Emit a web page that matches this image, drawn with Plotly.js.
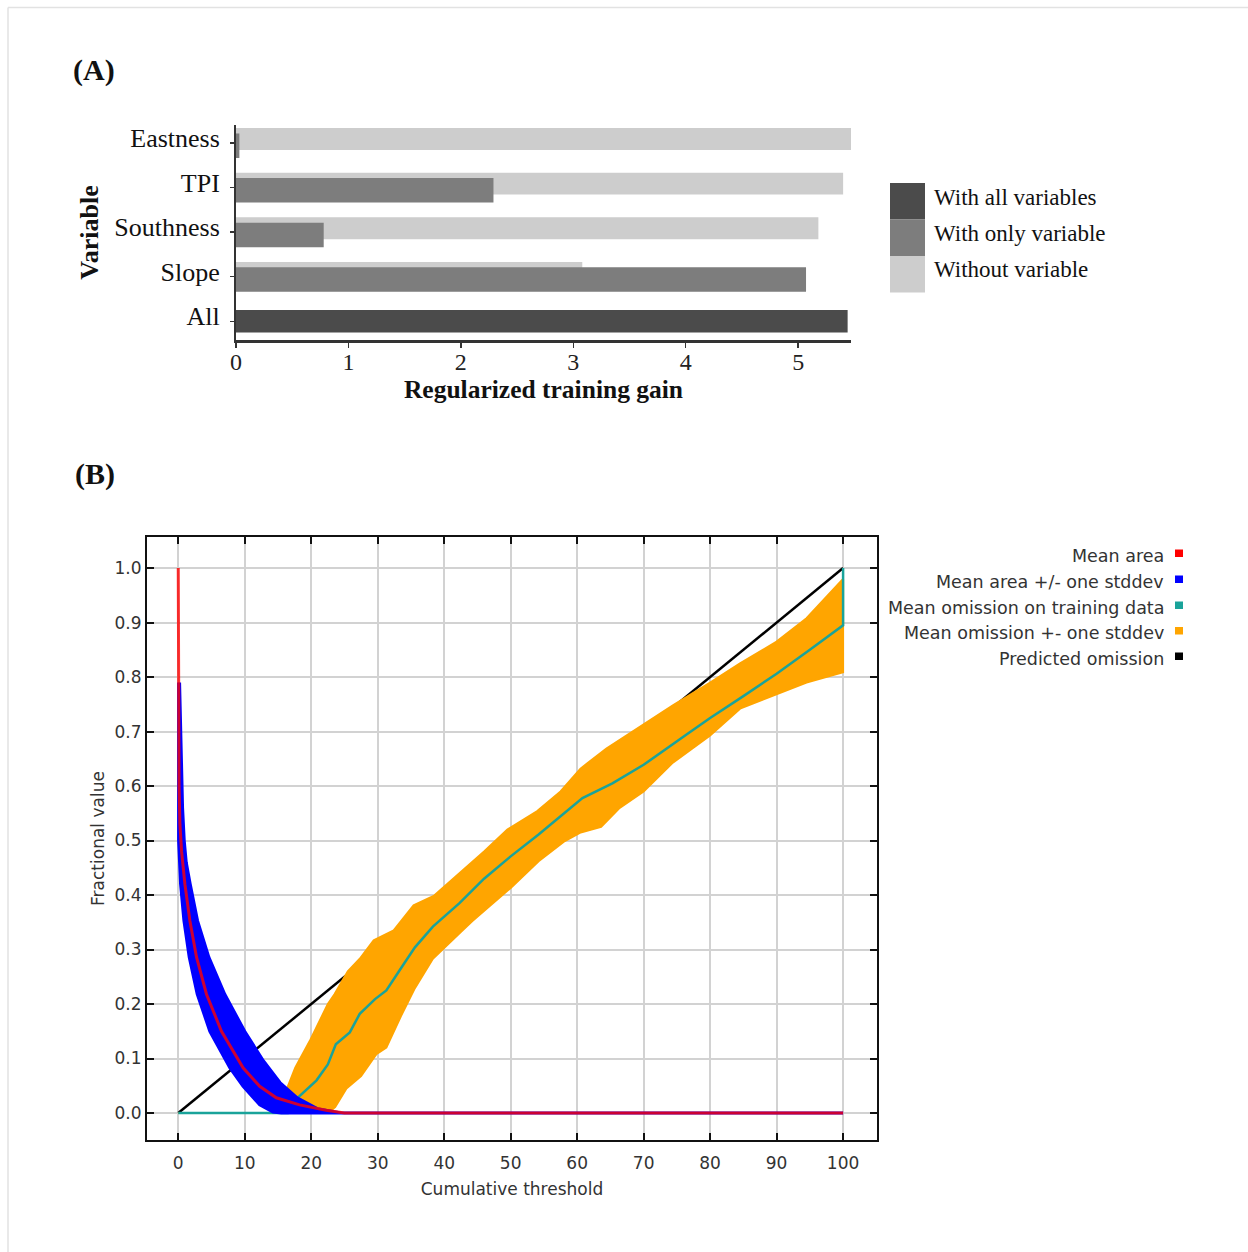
<!DOCTYPE html>
<html>
<head>
<meta charset="utf-8">
<script src="https://cdn.plot.ly/plotly-3.0.1.min.js"></script>
<style>
html,body{margin:0;padding:0;background:#fff;}
#chart{width:1248px;height:1252px;}
</style>
</head>
<body>
<div id="chart"></div>
<script>
// ---------- Panel A data ----------
const variables = ['All', 'Slope', 'Southness', 'TPI', 'Eastness'];
const withoutVariable = [null, 3.08, 5.18, 5.40, 5.48];
const withOnlyVariable = [null, 5.07, 0.78, 2.29, 0.03];
const allCategory = ['All'];
const withAllVariables = [5.44];
const legendANames = ['With all variables', 'With only variable', 'Without variable'];
const legendAColors = ['#4b4b4b', '#7d7d7d', '#cdcdcd'];

// ---------- Panel B data ----------
const meanAreaX = [0, 0.05, 0.12, 0.25, 0.5, 1.0, 1.75, 2.75, 4.25, 6.5, 9.75, 12.25, 14.75, 18.25, 22.25, 25, 100];
const meanAreaY = [1.0, 0.8, 0.6, 0.53, 0.48, 0.42, 0.353, 0.286, 0.218, 0.150, 0.083, 0.049, 0.028, 0.015, 0.005, 0, 0];

const areaUpperX = [0.2, 0.45, 0.65, 0.9, 1.2, 1.8, 2.9, 4.6, 7.0, 10.0, 12.8, 15.3, 17.9, 20.9, 24.5, 100];
const areaUpperY = [0.79, 0.65, 0.56, 0.5, 0.46, 0.42, 0.353, 0.286, 0.218, 0.150, 0.096, 0.056, 0.028, 0.008, 0, 0];
const areaLowerX = [0.05, 0.05, 0.35, 0.85, 1.65, 2.85, 4.75, 7.75, 9.75, 12.25, 14.25, 15.5, 100];
const areaLowerY = [0.79, 0.5, 0.42, 0.353, 0.286, 0.218, 0.150, 0.083, 0.049, 0.015, 0.002, 0, 0];

const omissionX = [0, 16.5, 17.8, 20.8, 22.5, 23.7, 25.8, 27.3, 29.6, 31.3, 33.3, 35.6, 38.3, 42.3, 46, 50, 54.2, 60.8, 65.3, 70, 76.4, 80, 85, 90, 95, 100, 100];
const omissionY = [0, 0, 0.026, 0.06, 0.089, 0.126, 0.148, 0.182, 0.209, 0.225, 0.262, 0.304, 0.342, 0.385, 0.43, 0.471, 0.511, 0.578, 0.605, 0.639, 0.694, 0.725, 0.765, 0.806, 0.85, 0.895, 1.0];

const omUpperX = [0, 15, 16, 17.6, 19.9, 22.5, 23.5, 25.5, 27.3, 29.4, 32.4, 35.4, 38.5, 42.5, 46, 49.5, 54, 57.5, 60.5, 64.4, 69, 74.4, 80, 84.5, 90, 94.5, 100];
const omUpperY = [0, 0, 0.034, 0.083, 0.135, 0.2, 0.218, 0.26, 0.283, 0.317, 0.335, 0.381, 0.399, 0.442, 0.48, 0.52, 0.554, 0.59, 0.632, 0.669, 0.705, 0.748, 0.79, 0.825, 0.865, 0.908, 0.98];
const omLowerX = [0, 22.5, 23.6, 25.3, 27.5, 29.8, 31.3, 33.5, 35.5, 38.3, 42.3, 44.2, 50, 54.2, 58, 60.4, 63.6, 66.4, 70, 74.4, 80, 84.5, 90, 94.5, 100];
const omLowerY = [0, 0, 0.011, 0.045, 0.068, 0.108, 0.12, 0.178, 0.227, 0.283, 0.33, 0.352, 0.413, 0.462, 0.498, 0.514, 0.525, 0.56, 0.59, 0.643, 0.693, 0.742, 0.769, 0.79, 0.809];

const predictedX = [0, 100];
const predictedY = [0, 1];

const legendBNames = ['Mean area', 'Mean area +/- one stddev', 'Mean omission on training data', 'Mean omission +- one stddev', 'Predicted omission'];
const legendBColors = ['#ff0000', '#0000ff', '#1aa39a', '#ffa500', '#000000'];

// ---------- helpers ----------
const W = 1248, H = 1252;
const px = x => x / W;
const py = y => 1 - y / H;
const polygon = (ux, uy, lx, ly) => ({
  x: ux.concat(lx.slice().reverse()),
  y: uy.concat(ly.slice().reverse())
});

const serif = 'Liberation Serif, Times New Roman, serif';
const sans = 'DejaVu Sans, Verdana, sans-serif';

const areaBand = polygon(areaUpperX, areaUpperY, areaLowerX, areaLowerY);
const omBand = polygon(omUpperX, omUpperY, omLowerX, omLowerY);

const traces = [
  // Panel A
  {type: 'bar', orientation: 'h', y: variables, x: withoutVariable, xaxis: 'x', yaxis: 'y',
   marker: {color: legendAColors[2]}, offset: -0.16, width: 0.49, name: legendANames[2], hoverinfo: 'x'},
  {type: 'bar', orientation: 'h', y: variables, x: withOnlyVariable, xaxis: 'x', yaxis: 'y',
   marker: {color: legendAColors[1]}, offset: -0.34, width: 0.55, name: legendANames[1], hoverinfo: 'x'},
  {type: 'bar', orientation: 'h', y: allCategory, x: withAllVariables, xaxis: 'x', yaxis: 'y',
   marker: {color: legendAColors[0]}, offset: -0.25, width: 0.5, name: legendANames[0], hoverinfo: 'x'},
  // Panel B (bottom to top: predicted, omission band, omission, area band, area)
  {type: 'scatter', mode: 'lines', x: predictedX, y: predictedY, xaxis: 'x2', yaxis: 'y2',
   line: {color: legendBColors[4], width: 2.5}, name: legendBNames[4]},
  {type: 'scatter', mode: 'lines', x: omBand.x, y: omBand.y, xaxis: 'x2', yaxis: 'y2',
   fill: 'toself', fillcolor: legendBColors[3], line: {color: legendBColors[3], width: 2}, name: legendBNames[3]},
  {type: 'scatter', mode: 'lines', x: omissionX, y: omissionY, xaxis: 'x2', yaxis: 'y2',
   line: {color: legendBColors[2], width: 2.5}, name: legendBNames[2]},
  {type: 'scatter', mode: 'lines', x: areaBand.x, y: areaBand.y, xaxis: 'x2', yaxis: 'y2',
   fill: 'toself', fillcolor: legendBColors[1], line: {color: legendBColors[1], width: 3}, name: legendBNames[1]},
  {type: 'scatter', mode: 'lines', x: meanAreaX, y: meanAreaY, xaxis: 'x2', yaxis: 'y2',
   line: {color: legendBColors[0], width: 3}, opacity: 0.8, name: legendBNames[0]}
];

const annotations = [
  {text: '(A)', xref: 'paper', yref: 'paper', x: px(71), y: py(70), xanchor: 'left', yanchor: 'middle', showarrow: false,
   font: {family: serif, size: 30, color: '#111', weight: 'bold'}},
  {text: '(B)', xref: 'paper', yref: 'paper', x: px(73), y: py(474), xanchor: 'left', yanchor: 'middle', showarrow: false,
   font: {family: serif, size: 30, color: '#111', weight: 'bold'}}
];
const shapes = [
  {type: 'line', xref: 'paper', yref: 'paper', x0: px(8), x1: 1, y0: py(7.5), y1: py(7.5), line: {color: '#e2e2e2', width: 1.5}},
  {type: 'line', xref: 'paper', yref: 'paper', x0: px(8), x1: px(8), y0: py(7.5), y1: 0, line: {color: '#e2e2e2', width: 1.5}}
];

// Legend A (boxes + text)
const legAY = [183, 219.5, 256];
legendANames.forEach((n, i) => {
  shapes.push({type: 'rect', xref: 'paper', yref: 'paper', x0: px(890), x1: px(925), y0: py(legAY[i]), y1: py(legAY[i] + 36.5),
    line: {width: 0}, fillcolor: legendAColors[i]});
  annotations.push({text: n, xref: 'paper', yref: 'paper', x: px(932), y: py(legAY[i] + 14), xanchor: 'left', yanchor: 'middle',
    showarrow: false, font: {family: serif, size: 23, color: '#111'}});
});

// Legend B (text right, square marker)
const legBY = [555.5, 581.5, 607.5, 633, 658.5];
legendBNames.forEach((n, i) => {
  annotations.push({text: n, xref: 'paper', yref: 'paper', x: px(1166), y: py(legBY[i]), xanchor: 'right', yanchor: 'middle',
    showarrow: false, font: {family: sans, size: 17.5, color: '#333'}});
  shapes.push({type: 'rect', xref: 'paper', yref: 'paper', x0: px(1175), x1: px(1183), y0: py(legBY[i] - 6), y1: py(legBY[i] + 1.5),
    line: {width: 0}, fillcolor: legendBColors[i]});
});

const layout = {
  width: W, height: H,
  margin: {l: 0, r: 0, t: 0, b: 0},
  paper_bgcolor: '#ffffff', plot_bgcolor: '#ffffff',
  showlegend: false,
  barmode: 'overlay',
  xaxis: {
    domain: [px(236), px(851)], range: [0, 5.47], anchor: 'y',
    tickmode: 'linear', tick0: 0, dtick: 1,
    ticks: 'outside', ticklen: 5, tickwidth: 1.5, tickcolor: '#333',
    showline: true, linecolor: '#333', linewidth: 2.5,
    showgrid: false, zeroline: false, fixedrange: true, ticklabelstandoff: -6,
    tickfont: {family: serif, size: 24, color: '#222'},
    title: {text: 'Regularized training gain', standoff: 0, font: {family: serif, size: 25.5, color: '#111', weight: 'bold'}}
  },
  yaxis: {
    domain: [py(340), py(125)], type: 'category', categoryorder: 'array', categoryarray: variables,
    range: [-0.42, 4.4], anchor: 'x',
    ticks: 'outside', ticklen: 4, tickwidth: 1.5, tickcolor: '#333',
    showline: true, linecolor: '#333', linewidth: 2,
    showgrid: false, zeroline: false, fixedrange: true, ticklabelstandoff: 5, ticklabelshift: -5,
    tickfont: {family: serif, size: 26, color: '#111'},
    title: {text: 'Variable', standoff: 8, font: {family: serif, size: 26, color: '#111', weight: 'bold'}}
  },
  xaxis2: {
    domain: [px(147), px(877)], range: [-4.7, 105.1], anchor: 'y2',
    tickmode: 'linear', tick0: 0, dtick: 10,
    ticks: 'inside', ticklen: 7, tickwidth: 2, tickcolor: '#111',
    showline: true, mirror: 'ticks', linecolor: '#111', linewidth: 2,
    showgrid: true, gridcolor: '#d2d2d2', gridwidth: 2, zeroline: false, fixedrange: true, ticklabelstandoff: 7,
    tickfont: {family: sans, size: 17, color: '#333'},
    title: {text: 'Cumulative threshold', standoff: 11, font: {family: sans, size: 17, color: '#333'}}
  },
  yaxis2: {
    domain: [py(1140), py(537)], range: [-0.0495, 1.057], anchor: 'x2',
    tickmode: 'linear', tick0: 0, dtick: 0.1, tickformat: '.1f',
    ticks: 'inside', ticklen: 7, tickwidth: 2, tickcolor: '#111',
    showline: true, mirror: 'ticks', linecolor: '#111', linewidth: 2,
    showgrid: true, gridcolor: '#d2d2d2', gridwidth: 2, zeroline: false, fixedrange: true,
    tickfont: {family: sans, size: 17, color: '#333'},
    title: {text: 'Fractional value', standoff: 6, font: {family: sans, size: 17, color: '#333'}}
  },
  annotations: annotations,
  shapes: shapes
};

Plotly.newPlot('chart', traces, layout, {staticPlot: true, displayModeBar: false});
</script>
</body>
</html>
